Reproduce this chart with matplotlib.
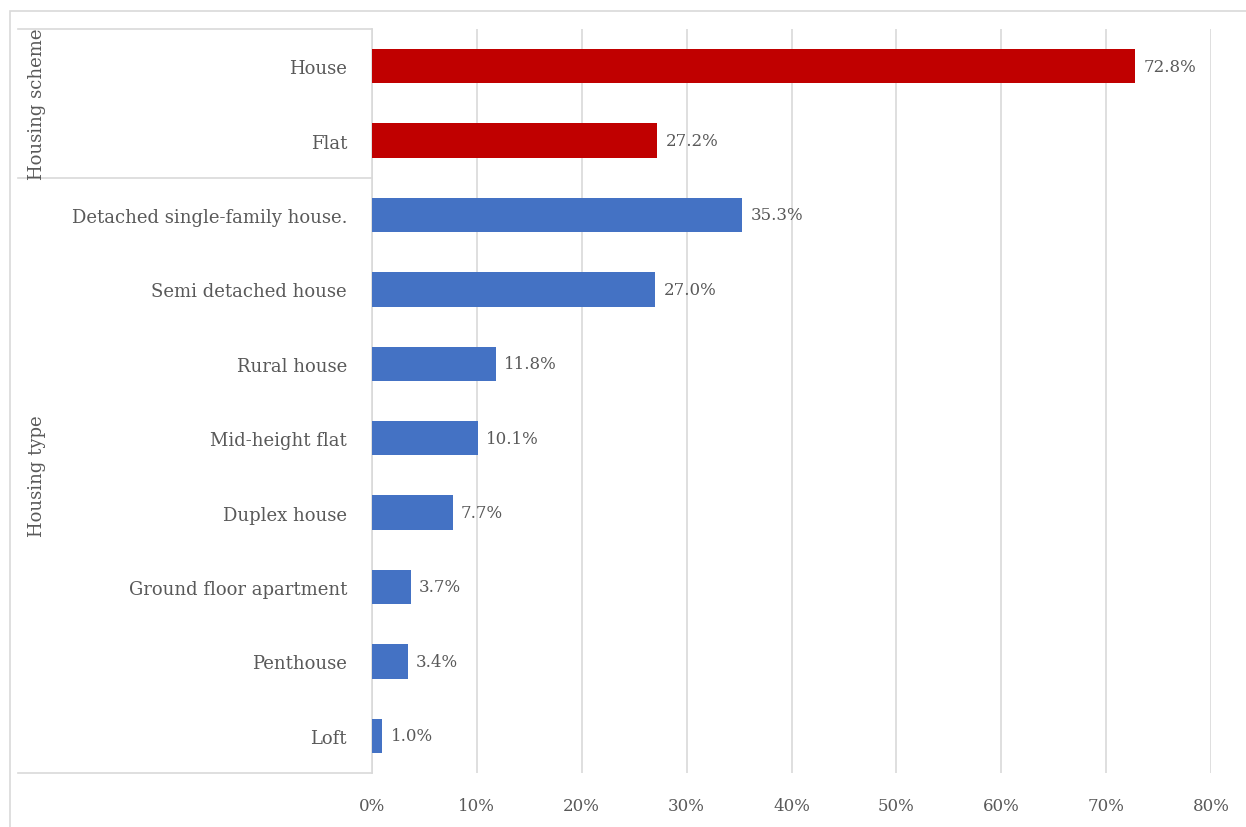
import numpy as np
import matplotlib
matplotlib.use('Agg')
import matplotlib.pyplot as plt
from matplotlib.lines import Line2D
from matplotlib.patches import Rectangle
from matplotlib.transforms import blended_transform_factory

# данные
scheme_labels = ['House', 'Flat']
scheme_values = [72.8, 27.2]
type_labels = ['Detached single-family house.', 'Semi detached house', 'Rural house',
               'Mid-height flat', 'Duplex house', 'Ground floor apartment',
               'Penthouse', 'Loft']
type_values = [35.3, 27.0, 11.8, 10.1, 7.7, 3.7, 3.4, 1.0]
group_names = ['Housing scheme', 'Housing type']
x_ticks = [0, 10, 20, 30, 40, 50, 60, 70, 80]

plt.rcParams['font.family'] = ['DejaVu Serif']
fs = 12      # цифры
fs_lab = 13  # подписи категорий
txt = '#595959'
line_c = '#d9d9d9'

labels = scheme_labels + type_labels
values = scheme_values + type_values
colors = ['#c00000'] * len(scheme_values) + ['#4472c4'] * len(type_values)
y = np.arange(len(labels))

fig = plt.figure(figsize=(12.46, 8.28), dpi=100, facecolor='white')
ax = fig.add_axes([372 / 1246, 1 - 774 / 828, (1211 - 372) / 1246, (774 - 30) / 828])

ax.barh(y, values, height=0.46, color=colors, zorder=3)
for yi, v in zip(y, values):
    ax.annotate(f'{v:.1f}%', (v, yi), xytext=(6, 0), textcoords='offset points',
                va='center', ha='left', fontsize=fs, color=txt)

ax.set_xlim(0, 80)
ax.set_ylim(len(labels) - 0.5, -0.5)
ax.set_xticks(x_ticks)
ax.set_xticklabels([f'{t}%' for t in x_ticks])
ax.set_yticks(y)
ax.set_yticklabels(labels)
ax.tick_params(axis='both', length=0, colors=txt)
ax.tick_params(axis='x', labelsize=fs, pad=17)
ax.tick_params(axis='y', labelsize=fs_lab, pad=18)
ax.grid(axis='x', color=line_c, linewidth=1.2, zorder=0)
for s in ['top', 'right', 'bottom']:
    ax.spines[s].set_visible(False)
ax.spines['left'].set_color(line_c)
ax.spines['left'].set_linewidth(1.2)

# линии групп слева
tr = blended_transform_factory(fig.transFigure, ax.transData)
x0 = 18 / 1246
x1 = 372 / 1246
bounds = [-0.5, len(scheme_labels) - 0.5, len(labels) - 0.5]
for b in bounds:
    fig.add_artist(Line2D([x0, x1], [b, b], transform=tr, color=line_c, linewidth=1.2))
for name, lo, hi in zip(group_names, bounds[:-1], bounds[1:]):
    fig.text(37 / 1246, (lo + hi) / 2, name, transform=tr, rotation=90,
             ha='center', va='center', fontsize=fs_lab, color=txt)

# внешняя рамка
fig.add_artist(Rectangle((10 / 1246, -0.1), 1.2, 1 - 12 / 828 + 0.1,
                         transform=fig.transFigure, fill=False,
                         edgecolor=line_c, linewidth=1.2))

fig.savefig('out.png', dpi=100, facecolor='white')
